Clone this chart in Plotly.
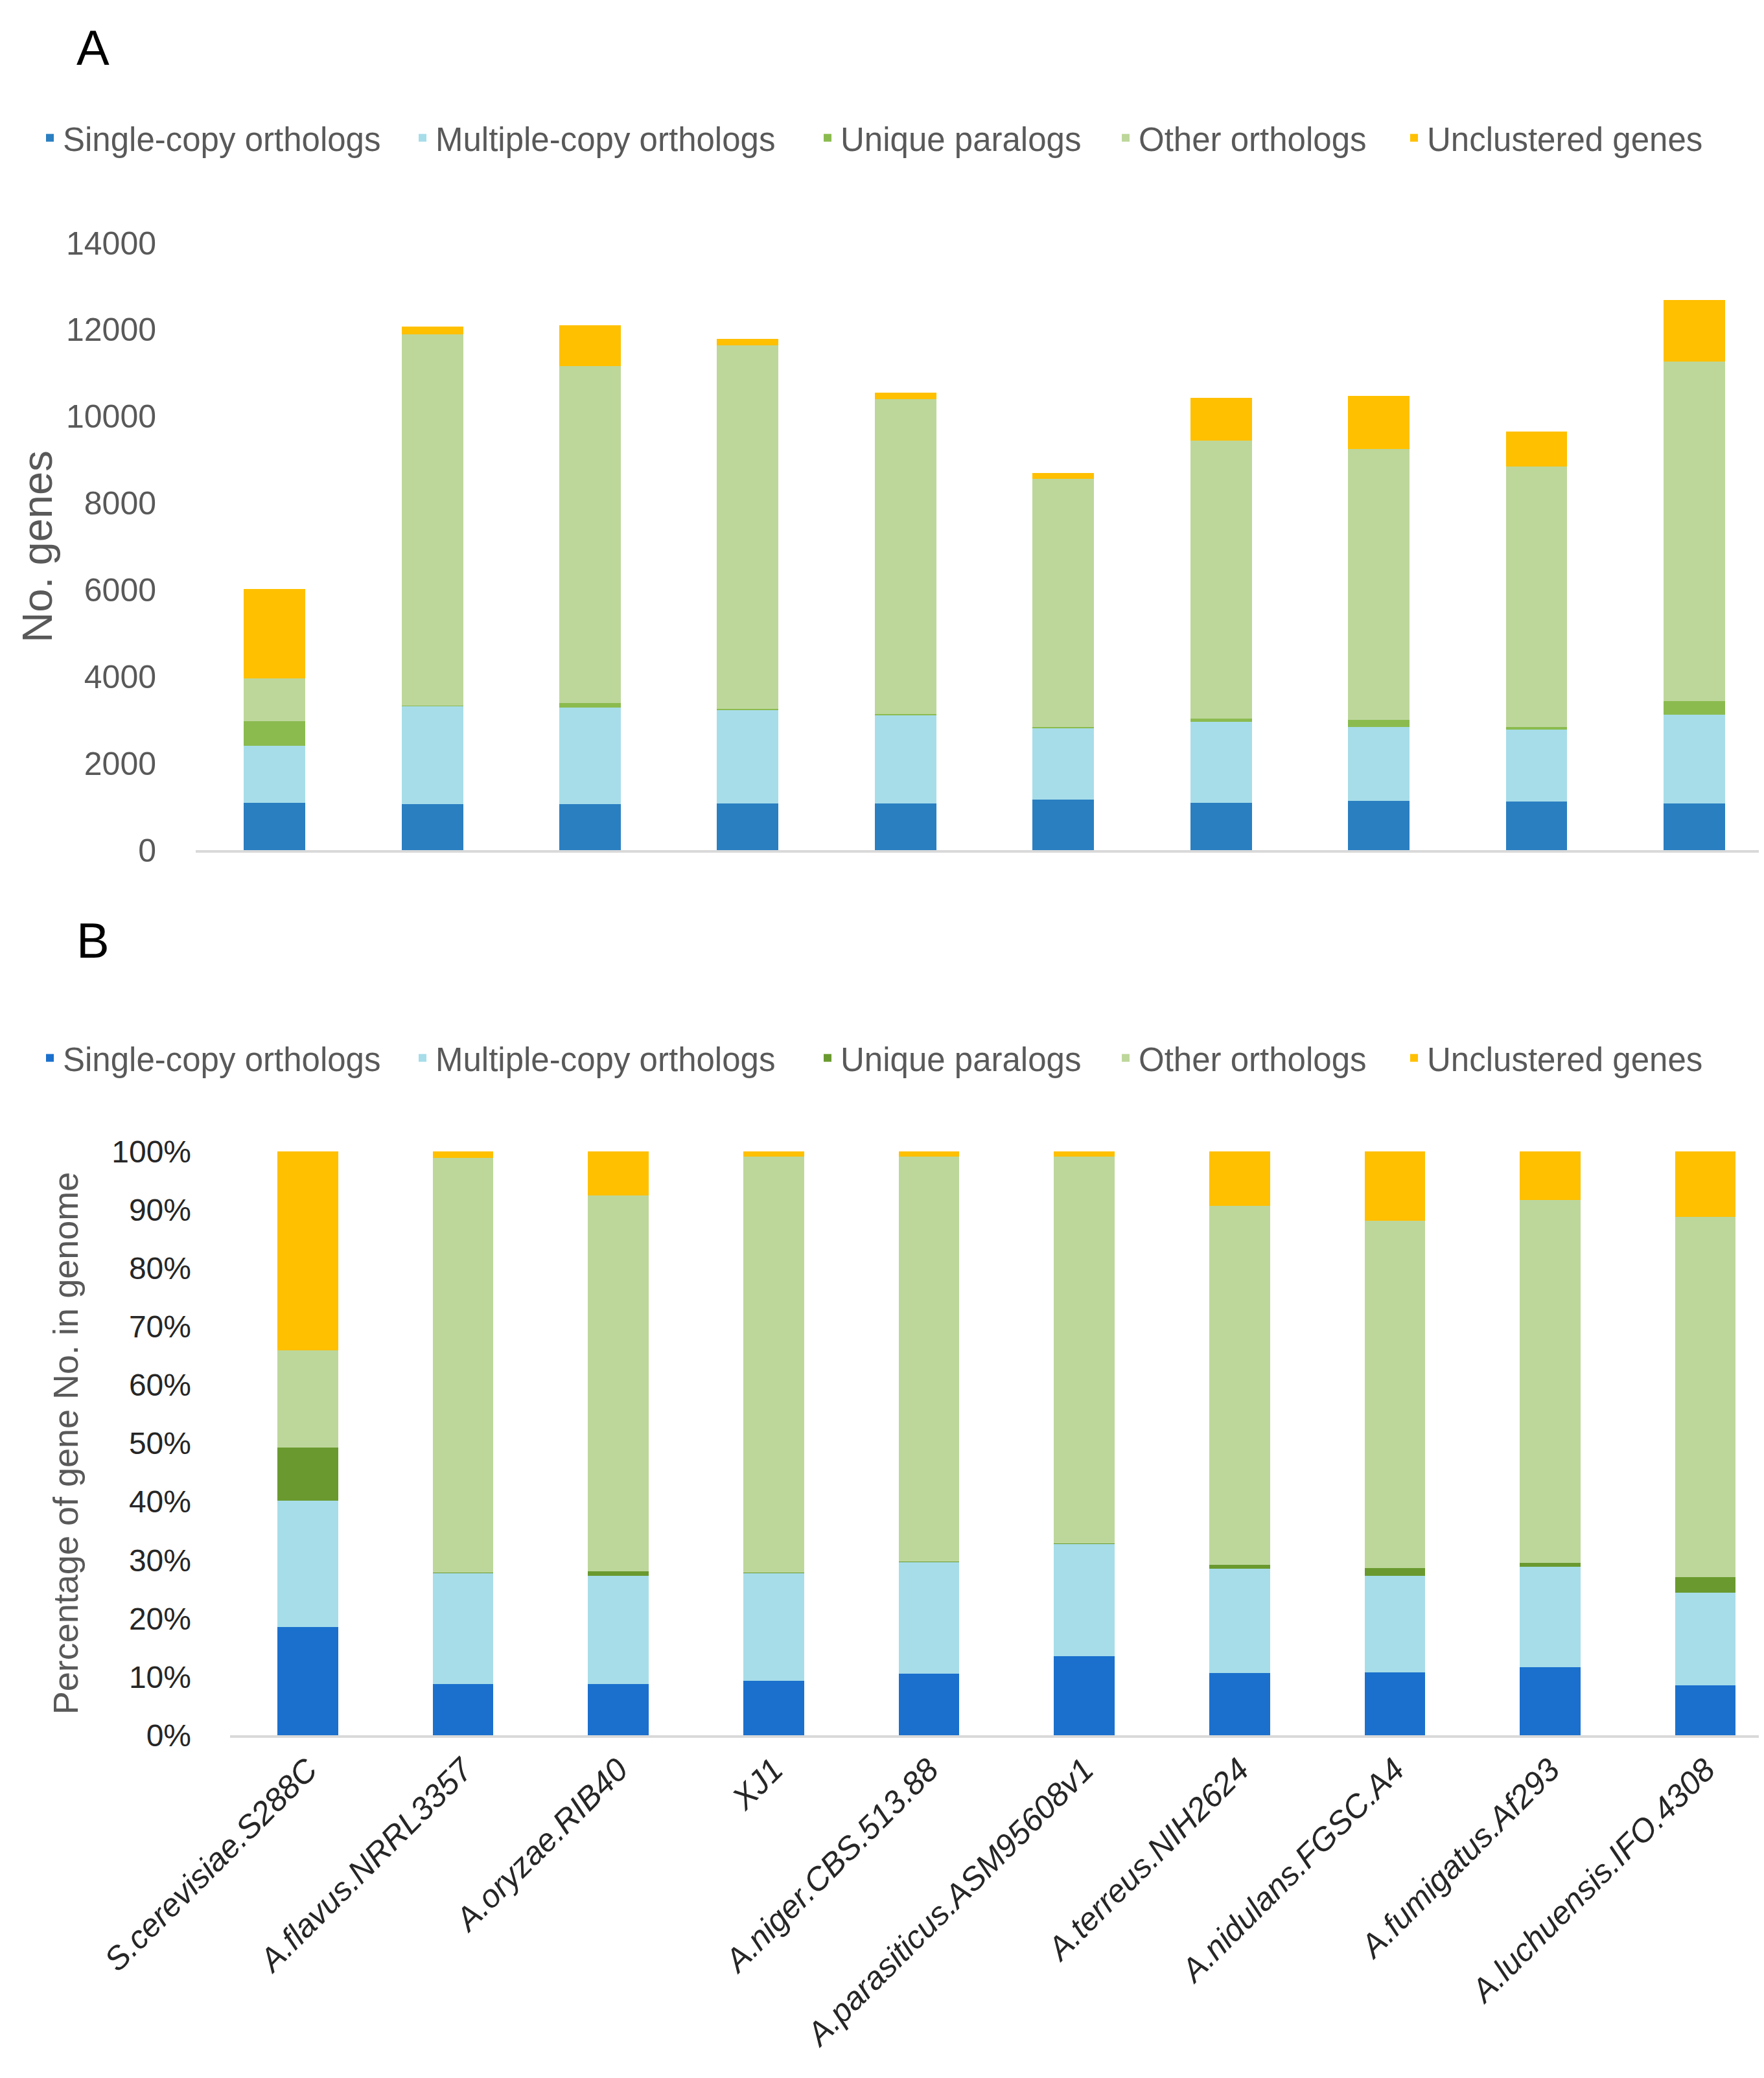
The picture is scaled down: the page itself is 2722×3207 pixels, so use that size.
import plotly.graph_objects as go

W, H = 2722, 3207

species = ['S.cerevisiae.S288C', 'A.flavus.NRRL3357', 'A.oryzae.RIB40', 'XJ1',
           'A.niger.CBS.513.88', 'A.parasiticus.ASM95608v1', 'A.terreus.NIH2624',
           'A.nidulans.FGSC.A4', 'A.fumigatus.Af293', 'A.luchuensis.IFO.4308']
groups = ['Single-copy orthologs', 'Multiple-copy orthologs', 'Unique paralogs',
          'Other orthologs', 'Unclustered genes']

# panel A: number of genes
single_n = [1095, 1056, 1056, 1069, 1082, 1159, 1095, 1133, 1120, 1082]
multiple_n = [1313, 2267, 2228, 2163, 2034, 1661, 1867, 1713, 1662, 2047]
unique_n = [560, 15, 110, 20, 20, 15, 65, 150, 50, 310]
other_n = [986, 8562, 7772, 8390, 7270, 5729, 6413, 6251, 6015, 7830]
unclustered_n = [2073, 168, 940, 142, 142, 129, 992, 1223, 812, 1416]

# panel B: percentage of gene No. in genome
single_p = [18.5, 8.8, 8.8, 9.3, 10.5, 13.5, 10.6, 10.8, 11.7, 8.6]
multiple_p = [21.7, 19.0, 18.5, 18.5, 19.2, 19.3, 17.9, 16.5, 17.2, 15.8]
unique_p = [9.1, 0.1, 0.8, 0.1, 0.1, 0.1, 0.7, 1.3, 0.6, 2.7]
other_p = [16.6, 71.0, 64.3, 71.2, 69.3, 66.2, 61.5, 59.5, 62.2, 61.7]
unclustered_p = [34.1, 1.1, 7.6, 0.9, 0.9, 0.9, 9.3, 11.9, 8.3, 11.2]

colors_a = ['#2A7FC1', '#A7DDE9', '#8BBB4F', '#BDD79B', '#FFC000']
colors_b = ['#1B70CD', '#A7DDE9', '#6A9A2F', '#BDD79B', '#FFC000']
legend_x = [71, 646, 1271, 1731, 2176]

series_a = [single_n, multiple_n, unique_n, other_n, unclustered_n]
series_b = [single_p, multiple_p, unique_p, other_p, unclustered_p]

fig = go.Figure()
for i, name in enumerate(groups):
    fig.add_trace(go.Bar(x=species, y=series_a[i], name=name, width=0.39,
                         marker=dict(color=colors_a[i], line_width=0),
                         xaxis='x', yaxis='y',
                         legend='legend' if i == 0 else 'legend%d' % (i + 1)))
for i, name in enumerate(groups):
    fig.add_trace(go.Bar(x=species, y=series_b[i], name=name, width=0.39,
                         marker=dict(color=colors_b[i], line_width=0),
                         xaxis='x2', yaxis='y2', legend='legend%d' % (i + 6)))

# one small legend per item so each entry sits where it does in the figure
legend_font = dict(family='Liberation Sans', size=51, color='#595959')
legends = {}
for k in range(10):
    key = 'legend' if k == 0 else 'legend%d' % (k + 1)
    yc = 205 if k < 5 else 1625
    legends[key] = dict(x=(legend_x[k % 5] - 22) / W, xanchor='left',
                        y=1 - yc / H, yanchor='middle', orientation='h',
                        font=legend_font, bgcolor='rgba(0,0,0,0)')

axis_line = dict(showline=True, linecolor='#D9D9D9', linewidth=4,
                 showgrid=False, zeroline=False, ticks='', automargin=False)

fig.update_layout(
    template='none',
    width=W, height=H, margin=dict(l=0, r=0, t=0, b=0, autoexpand=False),
    paper_bgcolor='white', plot_bgcolor='white',
    font=dict(family='Liberation Sans', color='#595959'),
    barmode='stack', showlegend=True,
    xaxis=dict(domain=[294 / W, 1], range=[-0.5, 9.475], anchor='y',
               showticklabels=False, **axis_line),
    yaxis=dict(domain=[1 - 1304 / H, 1 - 367 / H], range=[0, 14000], dtick=2000,
               tickformat='d', anchor='x', showgrid=False, zeroline=False,
               showline=False, ticks='', ticklabelstandoff=60, automargin=False,
               tickfont=dict(family='Liberation Sans', size=50, color='#595959'),
               title=dict(text='No. genes', standoff=0,
                          font=dict(family='Liberation Sans', size=65, color='#595959'))),
    xaxis2=dict(domain=[347 / W, 1], range=[-0.5, 9.41], anchor='y2',
                tickangle=-45,
                tickfont=dict(family='Liberation Sans', size=50, color='#262626',
                              style='italic'),
                **axis_line),
    yaxis2=dict(domain=[1 - 2670 / H, 1 - 1769 / H], range=[0, 100], dtick=10,
                ticksuffix='%', anchor='x2', showgrid=False, zeroline=False,
                showline=False, ticks='', ticklabelstandoff=59, automargin=False,
                tickfont=dict(family='Liberation Sans', size=48, color='#262626'),
                title=dict(text='Percentage of gene No. in genome', standoff=34,
                           font=dict(family='Liberation Sans', size=54, color='#595959'))),
    annotations=[
        dict(text='A', x=135 / W, y=1 - 66 / H, xref='paper', yref='paper',
             xanchor='center', yanchor='middle', showarrow=False,
             font=dict(family='Liberation Sans', size=76, color='black')),
        dict(text='B', x=135 / W, y=1 - 1443 / H, xref='paper', yref='paper',
             xanchor='center', yanchor='middle', showarrow=False,
             font=dict(family='Liberation Sans', size=76, color='black')),
    ],
    **legends,
)

fig.write_html('out.html')
